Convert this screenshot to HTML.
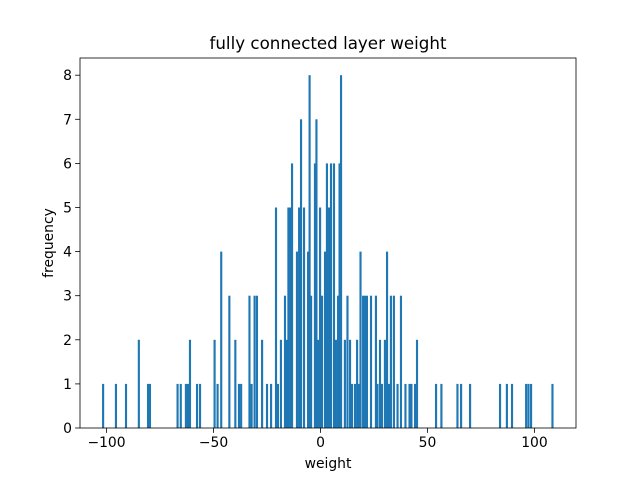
<!DOCTYPE html>
<html><head><meta charset="utf-8"><style>
html,body{margin:0;padding:0;background:#fff;width:640px;height:480px;overflow:hidden}
svg text{font-family:"DejaVu Sans","Liberation Sans",sans-serif;fill:#000}
</style></head><body>
<svg id="chart" width="640" height="480" viewBox="0 0 640 480" xmlns="http://www.w3.org/2000/svg">
<rect x="0" y="0" width="640" height="480" fill="#fff"/>
<g id="bars"></g>
<g id="axes"></g>
<text x="328" y="49" font-size="16.7" text-anchor="middle">fully connected layer weight</text>
<text x="328" y="468" font-size="13.9" text-anchor="middle">weight</text>
<text transform="translate(53,243) rotate(-90)" font-size="13.9" text-anchor="middle">frequency</text>
</svg>
<script>
const binCenters = [-101.6,-95.6,-90.9,-84.9,-80.6,-79.7,-66.8,-65.3,-62.9,-61.9,-61.0,-57.7,-56.3,-49.5,-48.1,-46.4,-42.6,-39.8,-38.1,-37.1,-33.2,-32.2,-30.8,-29.7,-27.3,-25.0,-23.1,-20.8,-19.9,-18.5,-16.6,-15.9,-15.0,-14.0,-13.3,-11.0,-10.0,-9.1,-7.7,-5.8,-5.1,-4.4,-2.6,-1.9,-1.2,-0.2,0.7,2.1,3.0,4.0,4.9,6.3,7.2,8.2,8.9,9.6,11.4,12.6,13.8,14.7,16.1,17.1,18.0,18.7,19.9,20.8,21.7,23.6,25.9,26.6,27.8,28.7,30.1,31.1,32.0,32.9,34.3,36.0,37.6,39.7,41.6,42.5,44.2,45.1,54.0,56.5,64.0,65.7,69.9,83.9,87.1,89.5,96.1,97.2,98.4,108.4];
const counts = [1,1,1,2,1,1,1,1,1,1,2,1,1,2,1,4,3,2,1,1,3,1,3,3,2,1,1,5,1,2,3,2,5,5,6,4,5,7,5,4,8,3,6,7,2,5,3,4,6,5,6,6,2,3,6,8,2,3,2,1,1,2,1,4,3,3,3,3,3,1,2,1,2,4,1,3,3,1,3,1,1,1,1,2,1,1,1,1,1,1,1,1,1,1,1,1];
const xTicks = [-100,-50,0,50,100];
const yTicks = [0,1,2,3,4,5,6,7,8];
const binWidth = 1.0;
const L=80,R=576,T=58,B=428;
const xMin=-112.4,xMax=119.4,yMax=8.39;
const sx=v=>L+(v-xMin)/(xMax-xMin)*(R-L);
const sy=v=>B-v/yMax*(B-T);
const NS="http://www.w3.org/2000/svg";
const bars=document.getElementById('bars');
binCenters.forEach((c,i)=>{
  const r=document.createElementNS(NS,'rect');
  const x0=sx(c-binWidth/2),x1=sx(c+binWidth/2);
  r.setAttribute('x',x0);r.setAttribute('width',Math.max(1,x1-x0));
  r.setAttribute('y',sy(counts[i]));r.setAttribute('height',B-sy(counts[i]));
  r.setAttribute('fill','#1f77b4');
  
  
  bars.appendChild(r);
});
const ax=document.getElementById('axes');
const frame=document.createElementNS(NS,'rect');
frame.setAttribute('x',L);frame.setAttribute('y',T);frame.setAttribute('width',R-L);frame.setAttribute('height',B-T);
frame.setAttribute('fill','none');frame.setAttribute('stroke','#000');frame.setAttribute('stroke-width','0.8');


ax.appendChild(frame);
xTicks.forEach(t=>{
  const x=sx(t);
  const l=document.createElementNS(NS,'line');
  l.setAttribute('x1',x);l.setAttribute('x2',x);l.setAttribute('y1',B);l.setAttribute('y2',B+4.9);
  l.setAttribute('stroke','#000');l.setAttribute('stroke-width','0.8');
  
  
  ax.appendChild(l);
  const tx=document.createElementNS(NS,'text');
  tx.setAttribute('x',x);tx.setAttribute('y',B+19);tx.setAttribute('font-size','13.9');tx.setAttribute('text-anchor','middle');
  tx.textContent=t<0?'\u2212'+(-t):String(t);
  
  
  ax.appendChild(tx);
});
yTicks.forEach(t=>{
  const y=sy(t);
  const l=document.createElementNS(NS,'line');
  l.setAttribute('x1',L-4.9);l.setAttribute('x2',L);l.setAttribute('y1',y);l.setAttribute('y2',y);
  l.setAttribute('stroke','#000');l.setAttribute('stroke-width','0.8');
  
  
  ax.appendChild(l);
  const tx=document.createElementNS(NS,'text');
  tx.setAttribute('x',L-8);tx.setAttribute('y',y+5);tx.setAttribute('font-size','13.9');tx.setAttribute('text-anchor','end');
  tx.textContent=String(t);
  
  
  ax.appendChild(tx);
});
</script>
</body></html>
